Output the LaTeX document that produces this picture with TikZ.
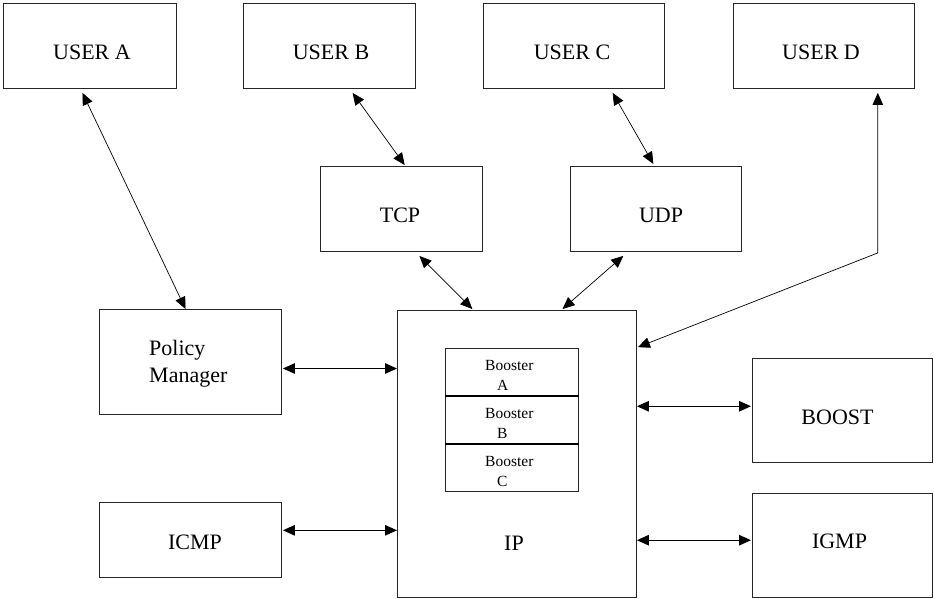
\documentclass[tikz,border=0pt]{standalone}
\usepackage{fontspec}
\setmainfont{Liberation Serif}
\usetikzlibrary{arrows.meta,calc}
\begin{document}
\begin{tikzpicture}[x=1pt,y=-1pt,
  box/.style={draw=black!85,line width=0.9pt,inner sep=0pt},
  lbl/.style={inner sep=0pt,font=\fontsize{22}{27}\selectfont},
  small/.style={inner sep=0pt,font=\fontsize{15.5}{20}\selectfont,align=left},
  link/.style={line width=0.7pt,{Triangle[length=12pt,width=10.5pt]}-{Triangle[length=12pt,width=10.5pt]}},
  hlink/.style={line width=1.1pt,{Triangle[length=12pt,width=10.5pt]}-{Triangle[length=12pt,width=10.5pt]}}]
\useasboundingbox (0,0) rectangle (934,598);
\fill[white] (0,0) rectangle (934,598);

% boxes, given by their corners
\newcommand{\bx}[5]{\node[box,minimum width=#4-#2,minimum height=#5-#3,anchor=north west] (#1) at (#2,#3) {};}
\bx{ua}{3}{3}{176}{88}
\bx{ub}{243}{3}{415}{88}
\bx{uc}{483}{3}{664}{88}
\bx{ud}{733}{3}{914}{88}
\bx{tcp}{320}{166}{482}{251}
\bx{udp}{570}{166}{741}{251}
\bx{pm}{99}{309}{281}{414}
\bx{icmp}{99}{502}{281}{577}
\bx{ip}{397}{310}{636}{597}
\bx{boost}{752}{358}{932}{462}
\bx{igmp}{752}{493}{932}{597}
\bx{ba}{445}{348}{578}{396}
\bx{bb}{445}{396}{578}{444}
\bx{bc}{445}{444}{578}{491}
\draw[line width=2.2pt,black] (bb.north west) -- (bb.north east) (bc.north west) -- (bc.north east);

% labels
\node[lbl] (tua) at (92,52) {USER A};
\node[lbl] (tub) at (331,52) {USER B};
\node[lbl] (tuc) at (572,52) {USER C};
\node[lbl] (tud) at (821,52) {USER D};
\node[lbl] (ttcp) at (400,215) {TCP};
\node[lbl] (tudp) at (661,215) {UDP};
\node[lbl,align=left,anchor=west] (tpm) at (149,363.5) {Policy\\Manager};
\node[lbl] (ticmp) at (195,542) {ICMP};
\node[lbl] (tip) at (514,543) {IP};
\node[lbl] (tboost) at (837.5,417) {BOOST};
\node[lbl] (tigmp) at (839.5,541) {IGMP};
\node[small,anchor=west] (tba) at (485,375) {Booster\\\hspace{12pt}A};
\node[small,anchor=west] (tbb) at (485,423) {Booster\\\hspace{12pt}B};
\node[small,anchor=west] (tbc) at (485,471) {Booster\\\hspace{12pt}C};

% links
\draw[link] ($(ua.south west)!0.457!(ua.south east)+(0,4)$) -- ($(pm.north west)!0.473!(pm.north east)$);
\draw[link] ($(ub.south west)!0.634!(ub.south east)+(0,4)$) -- ($(tcp.north west)!0.52!(tcp.north east)+(0,-1)$);
\draw[link] ($(uc.south west)!0.713!(uc.south east)+(0,4)$) -- ($(udp.north west)!0.485!(udp.north east)+(0,-2)$);
\draw[link] ($(tcp.south west)!0.61!(tcp.south east)+(0,4)$) -- ($(ip.north west)!0.314!(ip.north east)+(0,-1)$);
\draw[link] ($(udp.south west)!0.31!(udp.south east)+(0,4)$) -- ($(ip.north west)!0.69!(ip.north east)+(0,-1)$);
\coordinate (bend) at ($(ud.south west)!0.796!(ud.south east)+(0,164)$);
\draw[link] ($(ud.south west)!0.796!(ud.south east)+(0,4)$) -- (bend) -- ($(ip.north east)!0.129!(ip.south east)+(1,0)$);
\coordinate (pmr) at ($(pm.north east)!0.562!(pm.south east)+(1,0)$);
\draw[hlink] (pmr) -- (pmr -| ip.west);
\coordinate (icr) at ($(icmp.north east)!0.373!(icmp.south east)+(1,0)$);
\draw[hlink] (icr) -- (icr -| ip.west);
\coordinate (bol) at ($(boost.north west)!0.46!(boost.south west)+(-1,0)$);
\draw[hlink] (ip.east |- bol) -- (bol);
\coordinate (igl) at ($(igmp.north west)!0.45!(igmp.south west)+(-1,0)$);
\draw[hlink] (ip.east |- igl) -- (igl);
\end{tikzpicture}
\end{document}
